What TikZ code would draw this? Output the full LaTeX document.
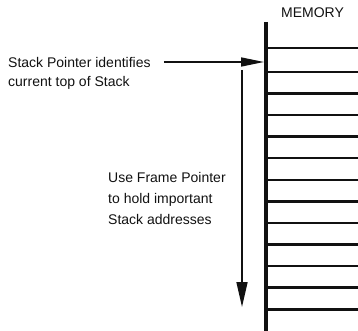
\documentclass[tikz,border=0pt]{standalone}
\usepackage{fontspec}
\setmainfont{Liberation Sans}
\usetikzlibrary{arrows.meta, positioning, calc}
\definecolor{inkBlack}{HTML}{111111}

\begin{document}
\begin{tikzpicture}[x=1pt, y=-1pt, inkBlack,
    every node/.style={font=\fontsize{14}{21}\selectfont, inner sep=0pt},
    ptrarrow/.style={line width=1.6pt, -{Triangle[length=23pt, width=9pt]}}]
  \useasboundingbox (0,0) rectangle (358,331);
  % memory column
  \node (memlabel) at (312.5,12.5) {MEMORY};
  \coordinate (memtop) at (266,22);
  \coordinate (membot) at (266,331);
  \draw[line width=4pt] (memtop) -- (membot);
  \foreach \y in {48,72,93.5,115,136.5,158,180,201.5,223,244.5,266,287.5,309.5}
    \draw[line width=2.2pt] (266,\y) -- (358,\y);
  % stack pointer
  \node[anchor=west] (sp) at (8,62) {Stack Pointer identifies};
  \node[anchor=west] (sptop) at (8,83) {current top of Stack};
  \coordinate (tos) at (264,62);
  \draw[ptrarrow] ([xshift=13pt]sp.east) -- (tos);
  % frame pointer
  \node[align=left, anchor=west] (fp) at (108,198) {Use Frame Pointer\\to hold important\\Stack addresses};
  \coordinate (fptop) at (242,70);
  \coordinate (fpbot) at (242,307);
  \draw[ptrarrow, -{Triangle[length=25pt, width=11pt]}] (fptop) -- (fpbot);
\end{tikzpicture}
\end{document}
